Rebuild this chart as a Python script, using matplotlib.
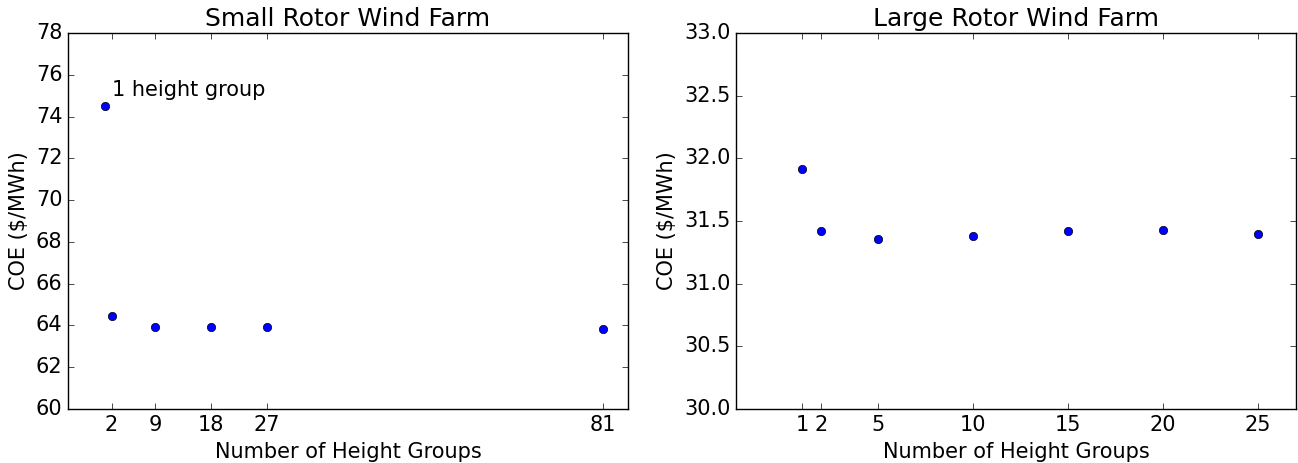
import matplotlib
matplotlib.use("Agg")
import matplotlib.pyplot as plt

# Small rotor farm: cost of energy vs. number of height groups
small_groups = [1, 2, 9, 18, 27, 81]
small_coe = [74.5, 64.47, 63.95, 63.92, 63.93, 63.85]
small_ticks = [2, 9, 18, 27, 81]

# Large rotor farm
large_groups = [1, 2, 5, 10, 15, 20, 25]
large_coe = [31.915, 31.42, 31.36, 31.38, 31.42, 31.425, 31.40]
large_ticks = [1, 2, 5, 10, 15, 20, 25]

plt.style.use("classic")
plt.rcParams["font.family"] = ["DejaVu Sans"]

fig = plt.figure(figsize=(12.98, 4.63), dpi=100, facecolor="white")
ax1 = fig.add_axes([0.0524, 0.1166, 0.4314, 0.8121])
ax2 = fig.add_axes([0.5670, 0.1166, 0.4315, 0.8121])

ax1.plot(small_groups, small_coe, "o", color="blue", markeredgecolor="black", markersize=6)
ax1.set_xlim(-5, 85)
ax1.set_ylim(60, 78)
ax1.set_xticks(small_ticks)
ax1.set_title("Small Rotor Wind Farm", fontsize=18)
ax1.set_xlabel("Number of Height Groups", fontsize=15)
ax1.set_ylabel("COE ($/MWh)", fontsize=15)
ax1.text(2, 75.25, "1 height group", fontsize=15, va="center", ha="left")

ax2.plot(large_groups, large_coe, "o", color="blue", markeredgecolor="black", markersize=6)
ax2.set_xlim(-2.5, 27)
ax2.set_ylim(30, 33)
ax2.set_xticks(large_ticks)
ax2.set_title("Large Rotor Wind Farm", fontsize=18)
ax2.set_xlabel("Number of Height Groups", fontsize=15)
ax2.set_ylabel("COE ($/MWh)", fontsize=15)

for ax in (ax1, ax2):
    ax.tick_params(labelsize=15)
    ax.set_facecolor("white")

fig.savefig("out.png", dpi=100, facecolor="white")
